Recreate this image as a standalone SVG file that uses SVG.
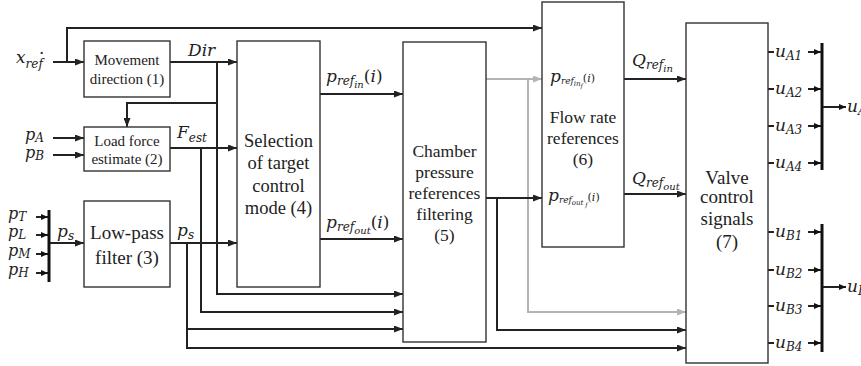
<svg xmlns="http://www.w3.org/2000/svg" width="861" height="366" viewBox="0 0 861 366">
  <defs>
    <style>
      .box { fill: #fff; stroke: #333; stroke-width: 1.4; }
      .ln { fill: none; stroke: #222; stroke-width: 2; }
      .gr { fill: none; stroke: #b3b3b3; stroke-width: 2; }
      .bus { fill: none; stroke: #111; stroke-width: 3; }
      .t { font-family: "Liberation Serif", "Times New Roman", serif; fill: #222; text-anchor: middle; }
      .m { font-family: "DejaVu Serif", serif; font-style: italic; fill: #222; font-size: 17px; }
      .pin { font-size: 16px; }
      .s { font-size: 12px; }
      .ss { font-size: 10px; }
    </style>
    <marker id="ah" markerWidth="9" markerHeight="7" refX="9" refY="3.5" orient="auto" markerUnits="userSpaceOnUse">
      <path d="M0,0 L9,3.5 L0,7 z" fill="#222"/>
    </marker>
    <marker id="ahg" markerWidth="9" markerHeight="7" refX="9" refY="3.5" orient="auto" markerUnits="userSpaceOnUse">
      <path d="M0,0 L9,3.5 L0,7 z" fill="#b3b3b3"/>
    </marker>
    <marker id="as" markerWidth="7" markerHeight="6" refX="7" refY="3" orient="auto" markerUnits="userSpaceOnUse">
      <path d="M0,0 L7,3 L0,6 z" fill="#111"/>
    </marker>
  </defs>

  <!-- connectors -->
  <g id="connectors">
    <!-- velocity reference -->
    <path class="ln" d="M53,62 H84" marker-end="url(#ah)"/>
    <path class="ln" d="M67,62 V28 H542" marker-end="url(#ah)"/>
    <!-- Dir -->
    <path class="ln" d="M170,62 H237" marker-end="url(#ah)"/>
    <path class="ln" d="M217,62 V294 H403" marker-end="url(#ah)"/>
    <path class="ln" d="M217,103 H127 V127" marker-end="url(#ah)"/>
    <!-- F_est -->
    <path class="ln" d="M170,148 H237" marker-end="url(#ah)"/>
    <path class="ln" d="M201,148 V312 H403" marker-end="url(#ah)"/>
    <!-- p_s -->
    <path class="ln" d="M170,243 H237" marker-end="url(#ah)"/>
    <path class="ln" d="M187,243 V329 H403" marker-end="url(#ah)"/>
    <path class="ln" d="M187,329 V348 H686" marker-end="url(#ah)"/>
    <!-- pressures in -->
    <path class="ln" d="M53,138 H84" marker-end="url(#ah)"/>
    <path class="ln" d="M53,155 H84" marker-end="url(#ah)"/>
    <path class="ln" d="M36,217 H48" marker-end="url(#as)"/>
    <path class="ln" d="M36,235 H48" marker-end="url(#as)"/>
    <path class="ln" d="M36,254 H48" marker-end="url(#as)"/>
    <path class="ln" d="M36,273 H48" marker-end="url(#as)"/>
    <path class="bus" d="M49,210 V282"/>
    <path class="ln" d="M50,243 H84" marker-end="url(#ah)"/>
    <!-- target pressures -->
    <path class="ln" d="M320,94 H403" marker-end="url(#ah)"/>
    <path class="ln" d="M320,239 H403" marker-end="url(#ah)"/>
    <!-- filtered pressure references -->
    <path class="gr" d="M486,79 H542" marker-end="url(#ahg)"/>
    <path class="gr" d="M528,79 V312 H686" marker-end="url(#ahg)"/>
    <path class="ln" d="M486,198 H542" marker-end="url(#ah)"/>
    <path class="ln" d="M497,198 V330 H686" marker-end="url(#ah)"/>
    <!-- flow rate references -->
    <path class="ln" d="M624,79 H686" marker-end="url(#ah)"/>
    <path class="ln" d="M624,194 H686" marker-end="url(#ah)"/>
    <!-- valve outputs A -->
    <path class="ln" d="M768,52 H774 M768,89 H774 M768,126 H774 M768,163 H774"/>
    <path class="ln" d="M808,52 H821" marker-end="url(#as)"/>
    <path class="ln" d="M808,89 H821" marker-end="url(#as)"/>
    <path class="ln" d="M808,126 H821" marker-end="url(#as)"/>
    <path class="ln" d="M808,163 H821" marker-end="url(#as)"/>
    <path class="bus" d="M822,43 V170"/>
    <path class="ln" d="M823,107 H846" marker-end="url(#as)"/>
    <!-- valve outputs B -->
    <path class="ln" d="M768,232 H774 M768,270 H774 M768,306 H774 M768,343 H774"/>
    <path class="ln" d="M808,232 H821" marker-end="url(#as)"/>
    <path class="ln" d="M808,270 H821" marker-end="url(#as)"/>
    <path class="ln" d="M808,306 H821" marker-end="url(#as)"/>
    <path class="ln" d="M808,343 H821" marker-end="url(#as)"/>
    <path class="bus" d="M822,224 V352"/>
    <path class="ln" d="M823,287 H846" marker-end="url(#as)"/>
  </g>

  <!-- blocks -->
  <g id="movement">
    <rect class="box" x="84" y="41" width="86" height="56"/>
    <text class="t" font-size="15" x="127" y="65">Movement</text>
    <text class="t" font-size="15" x="127" y="84">direction (1)</text>
  </g>
  <g id="load-force">
    <rect class="box" x="84" y="127" width="86" height="44"/>
    <text class="t" font-size="15" x="127" y="146">Load force</text>
    <text class="t" font-size="15" x="127" y="164">estimate (2)</text>
  </g>
  <g id="low-pass">
    <rect class="box" x="84" y="201" width="86" height="86"/>
    <text class="t" font-size="19" x="127" y="239">Low-pass</text>
    <text class="t" font-size="19" x="127" y="264">filter (3)</text>
  </g>
  <g id="selection">
    <rect class="box" x="237" y="41" width="83" height="246"/>
    <text class="t" font-size="18.5" x="278.5" y="147">Selection</text>
    <text class="t" font-size="18.5" x="278.5" y="169">of target</text>
    <text class="t" font-size="18.5" x="278.5" y="192">control</text>
    <text class="t" font-size="18.5" x="278.5" y="214">mode (4)</text>
  </g>
  <g id="chamber">
    <rect class="box" x="403" y="42" width="83" height="300"/>
    <text class="t" font-size="17.5" x="444.5" y="157">Chamber</text>
    <text class="t" font-size="17.5" x="444.5" y="178">pressure</text>
    <text class="t" font-size="17.5" x="444.5" y="199">references</text>
    <text class="t" font-size="17.5" x="444.5" y="220">filtering</text>
    <text class="t" font-size="17.5" x="444.5" y="241">(5)</text>
  </g>
  <g id="flow-rate">
    <rect class="box" x="542" y="2" width="82" height="245"/>
    <text class="t" font-size="17.5" x="583" y="123">Flow rate</text>
    <text class="t" font-size="17.5" x="583" y="144">references</text>
    <text class="t" font-size="17.5" x="583" y="165">(6)</text>
  </g>
  <g id="valve">
    <rect class="box" x="686" y="23" width="82" height="340"/>
    <text class="t" font-size="19" x="727" y="184">Valve</text>
    <text class="t" font-size="19" x="727" y="203">control</text>
    <text class="t" font-size="19" x="727" y="225">signals</text>
    <text class="t" font-size="19" x="727" y="248">(7)</text>
  </g>

  <!-- signal labels -->
  <g id="labels">
    <text class="m" x="16" y="63">x<tspan class="s" dy="5">ref</tspan><tspan dx="-4" dy="-9">·</tspan></text>
    <text class="m" x="188" y="56">Dir</text>
    <text class="m" x="177" y="138">F<tspan class="s" dy="4">est</tspan></text>
    <text class="m" x="177" y="236">p<tspan class="s" dy="3">s</tspan></text>
    <text class="m" x="57" y="237">p<tspan class="s" dy="3">s</tspan></text>
    <text class="m pin" x="25" y="140">p<tspan class="s" dy="2">A</tspan></text>
    <text class="m pin" x="25" y="158">p<tspan class="s" dy="2">B</tspan></text>
    <text class="m pin" x="8" y="219">p<tspan class="s" dy="2">T</tspan></text>
    <text class="m pin" x="8" y="237">p<tspan class="s" dy="2">L</tspan></text>
    <text class="m pin" x="8" y="256">p<tspan class="s" dy="2">M</tspan></text>
    <text class="m pin" x="8" y="275">p<tspan class="s" dy="2">H</tspan></text>
    <text class="m" x="326" y="82">p<tspan class="s" dy="3">ref</tspan><tspan class="ss" dy="3">in</tspan><tspan dy="-6" font-style="normal">(</tspan>i<tspan font-style="normal">)</tspan></text>
    <text class="m" x="326" y="228">p<tspan class="s" dy="3">ref</tspan><tspan class="ss" dy="3">out</tspan><tspan dy="-6" font-style="normal">(</tspan>i<tspan font-style="normal">)</tspan></text>
    <text class="m" font-size="12" x="550" y="82">p<tspan font-size="9" dy="2">ref</tspan><tspan font-size="7" dy="2">in</tspan><tspan font-size="6" dy="2">f</tspan><tspan font-size="11" dy="-6" font-style="normal">(</tspan><tspan font-size="11">i</tspan><tspan font-size="11" font-style="normal">)</tspan></text>
    <text class="m" font-size="12" x="548" y="201">p<tspan font-size="9" dy="2">ref</tspan><tspan font-size="7" dy="2">out</tspan><tspan font-size="6" dy="2"> f</tspan><tspan font-size="11" dy="-6" font-style="normal">(</tspan><tspan font-size="11">i</tspan><tspan font-size="11" font-style="normal">)</tspan></text>
    <text class="m" x="632" y="66">Q<tspan class="s" dy="3">ref</tspan><tspan class="ss" dy="3">in</tspan></text>
    <text class="m" x="632" y="184">Q<tspan class="s" dy="3">ref</tspan><tspan class="ss" dy="3">out</tspan></text>
    <text class="m" x="775" y="57">u<tspan class="s" dy="3">A1</tspan></text>
    <text class="m" x="775" y="94">u<tspan class="s" dy="3">A2</tspan></text>
    <text class="m" x="775" y="131">u<tspan class="s" dy="3">A3</tspan></text>
    <text class="m" x="775" y="168">u<tspan class="s" dy="3">A4</tspan></text>
    <text class="m" x="847" y="112">u<tspan class="s" dy="3">A</tspan></text>
    <text class="m" x="775" y="237">u<tspan class="s" dy="3">B1</tspan></text>
    <text class="m" x="775" y="275">u<tspan class="s" dy="3">B2</tspan></text>
    <text class="m" x="775" y="311">u<tspan class="s" dy="3">B3</tspan></text>
    <text class="m" x="775" y="348">u<tspan class="s" dy="3">B4</tspan></text>
    <text class="m" x="847" y="292">u<tspan class="s" dy="3">B</tspan></text>
  </g>
</svg>
